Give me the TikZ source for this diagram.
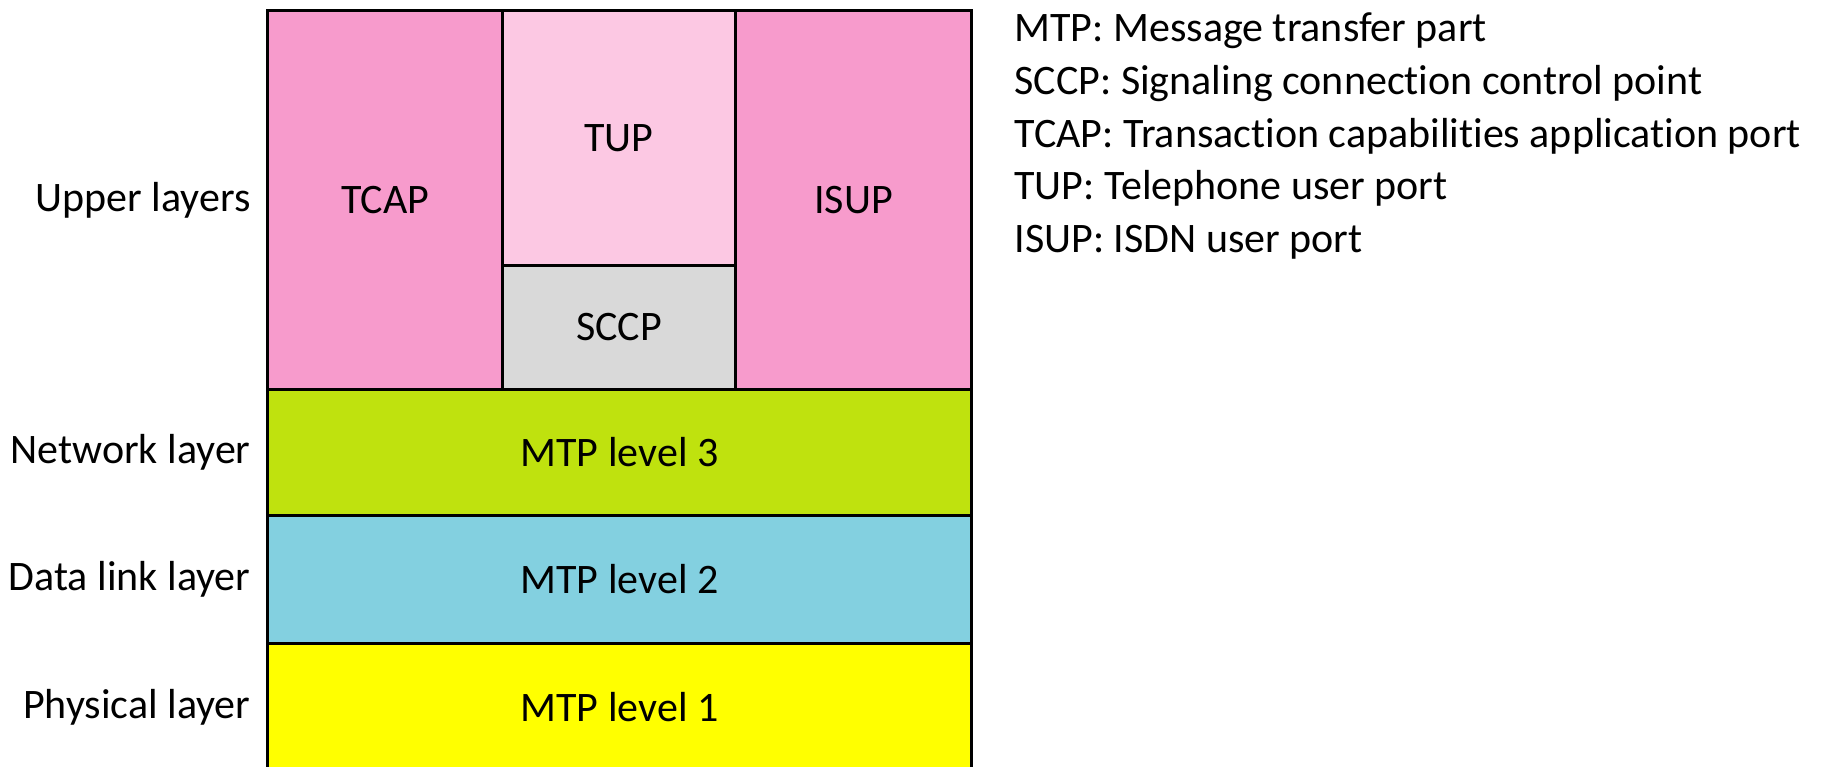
\documentclass[tikz,border=0pt]{standalone}
\usepackage{fontspec}
\setmainfont{Carlito}[Ligatures=NoCommon]
\usetikzlibrary{positioning}
\definecolor{tcappink}{HTML}{F79BCC}
\definecolor{tuppink}{HTML}{FCC8E3}
\definecolor{sccpgray}{HTML}{D9D9D9}
\definecolor{mtpgreen}{HTML}{BFE20E}
\definecolor{mtpblue}{HTML}{83D0E0}
\definecolor{mtpyellow}{HTML}{FFFF00}

\begin{document}
\begin{tikzpicture}[x=1pt, y=-1pt, line width=3pt, font=\fontsize{42}{50}\selectfont,
  box/.style = {draw, rectangle, inner sep=0pt, anchor=north west},
  lbl/.style = {inner sep=0pt, node distance=14pt},
  key/.style = {anchor=base west, inner sep=0pt}]
\useasboundingbox (0,0) rectangle (1831,767);
% protocol stack
\node[box, fill=tcappink, minimum width=235pt, minimum height=379pt] (tcap) at (266,9) {TCAP};
\node[box, fill=tuppink, minimum width=233pt, minimum height=255pt] (tup) at (501,9) {TUP};
\node[box, fill=sccpgray, minimum width=233pt, minimum height=124pt] (sccp) at (501,264) {SCCP};
\node[box, fill=tcappink, minimum width=236pt, minimum height=379pt] (isup) at (734,9) {ISUP};
\node[box, fill=mtpgreen, minimum width=704pt, minimum height=126pt] (mtp3) at (266,388) {MTP level 3};
\node[box, fill=mtpblue, minimum width=704pt, minimum height=128pt] (mtp2) at (266,514) {MTP level 2};
\node[box, fill=mtpyellow, minimum width=704pt, minimum height=128pt] (mtp1) at (266,642) {MTP level 1};
% layer names
\node[lbl] (upper) [left=of tcap] {Upper layers};
\node[lbl] (network) [left=of mtp3] {Network layer};
\node[lbl] (datalink) [left=of mtp2] {Data link layer};
\node[lbl] (physical) [left=of mtp1] {Physical layer};
% abbreviations
\node[key] (k1) at (1013,42) {MTP: Message transfer part};
\node[key] (k2) at (1013,95) {SCCP: Signaling connection control point};
\node[key] (k3) at (1013,148) {TCAP: Transaction capabilities application port};
\node[key] (k4) at (1013,200) {TUP: Telephone user port};
\node[key] (k5) at (1013,253) {ISUP: ISDN user port};
\end{tikzpicture}
\end{document}
